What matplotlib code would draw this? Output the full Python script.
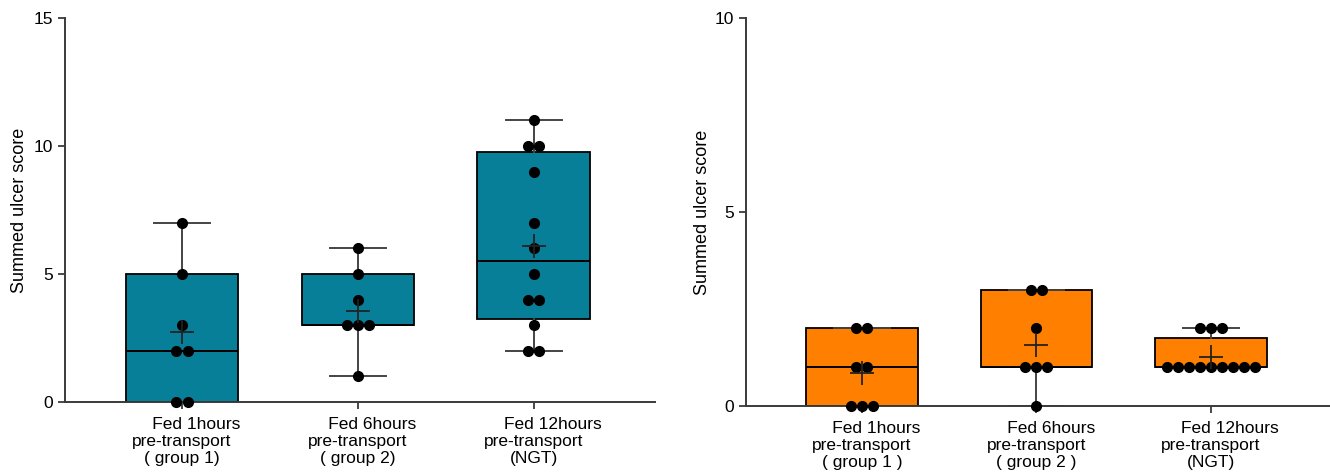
import numpy as np
import matplotlib
matplotlib.use("Agg")
import matplotlib.pyplot as plt

plt.rcParams['font.family'] = ['Liberation Sans', 'DejaVu Sans']

# tick labels (first line padded like in the original figure)
labels = ["      Fed 1hours\npre-transport\n( group 1)",
          "      Fed 6hours\npre-transport\n( group 2)",
          "        Fed 12hours\npre-transport\n(NGT)"]
labels_r = ["      Fed 1hours\npre-transport\n( group 1 )",
            "      Fed 6hours\npre-transport\n( group 2 )",
            "        Fed 12hours\npre-transport\n(NGT)"]

# summed ulcer scores, panel 1 (teal)
left_g1 = [0, 0, 2, 2, 3, 5, 7]
left_g2 = [1, 3, 3, 3, 4, 5, 6]
left_ngt = [2, 2, 3, 4, 4, 5, 6, 7, 9, 10, 10, 11]

# summed ulcer scores, panel 2 (orange)
right_g1 = [0, 0, 0, 1, 1, 2, 2]
right_g2 = [0, 1, 1, 1, 2, 3, 3]
right_ngt = [1, 1, 1, 1, 1, 1, 1, 1, 1, 2, 2, 2]

teal = "#087F99"
orange = "#FF8000"
spine_col = "#3a3a3a"


def stats_for(data):
    d = np.asarray(data, dtype=float)
    q1, med, q3 = np.percentile(d, [25, 50, 75], method="weibull")
    return dict(med=med, q1=q1, q3=q3, whislo=d.min(), whishi=d.max(),
                mean=d.mean(), fliers=[])


def draw_panel(ax, groups, color, ylim, yticks, xlabels):
    stats = [stats_for(g) for g in groups]
    pos = np.arange(len(groups))
    ax.bxp(stats, positions=pos, widths=0.64, patch_artist=True,
           showfliers=False, showmeans=False, capwidths=0.32,
           boxprops=dict(facecolor=color, edgecolor="black", linewidth=1.3),
           medianprops=dict(color="black", linewidth=1.4),
           whiskerprops=dict(color="#444444", linewidth=1.4),
           capprops=dict(color="#444444", linewidth=1.4))
    # points, spread sideways where values repeat
    for p, g in zip(pos, groups):
        vals, counts = np.unique(g, return_counts=True)
        for v, c in zip(vals, counts):
            offs = (np.arange(c) - (c - 1) / 2) * 0.063
            ax.plot(p + offs, [v] * c, 'o', color="black", markersize=7,
                    clip_on=False, zorder=5)
        ax.plot(p, np.mean(g), '+', color="#222222", markersize=17,
                markeredgewidth=1.3, zorder=6)
    ax.set_xlim(-0.665, len(groups) - 1 + 0.69)
    ax.set_ylim(*ylim)
    ax.set_yticks(yticks)
    ax.set_xticks(pos)
    ax.set_xticklabels(xlabels, multialignment="center", fontsize=12.5,
                       linespacing=1.15)
    ax.set_ylabel("Summed ulcer score", fontsize=13)
    for s in ["top", "right"]:
        ax.spines[s].set_visible(False)
    for s in ["left", "bottom"]:
        ax.spines[s].set_color(spine_col)
        ax.spines[s].set_linewidth(1.4)
    ax.tick_params(axis="both", colors=spine_col, labelcolor="black",
                   width=1.3, length=5, labelsize=12.5)
    ax.tick_params(axis="x", pad=6)


fig = plt.figure(figsize=(13.3, 4.74), dpi=100)
ax1 = fig.add_axes([0.0489, 0.152, 0.4436, 0.810])
ax2 = fig.add_axes([0.5609, 0.1435, 0.440, 0.8185])

draw_panel(ax1, [left_g1, left_g2, left_ngt], teal, (0, 15), [0, 5, 10, 15], labels)
draw_panel(ax2, [right_g1, right_g2, right_ngt], orange, (0, 10), [0, 5, 10], labels_r)
ax1.yaxis.set_label_coords(-0.063, 0.5)
ax2.yaxis.set_label_coords(-0.06, 0.5)

fig.savefig("out.png", dpi=100)
